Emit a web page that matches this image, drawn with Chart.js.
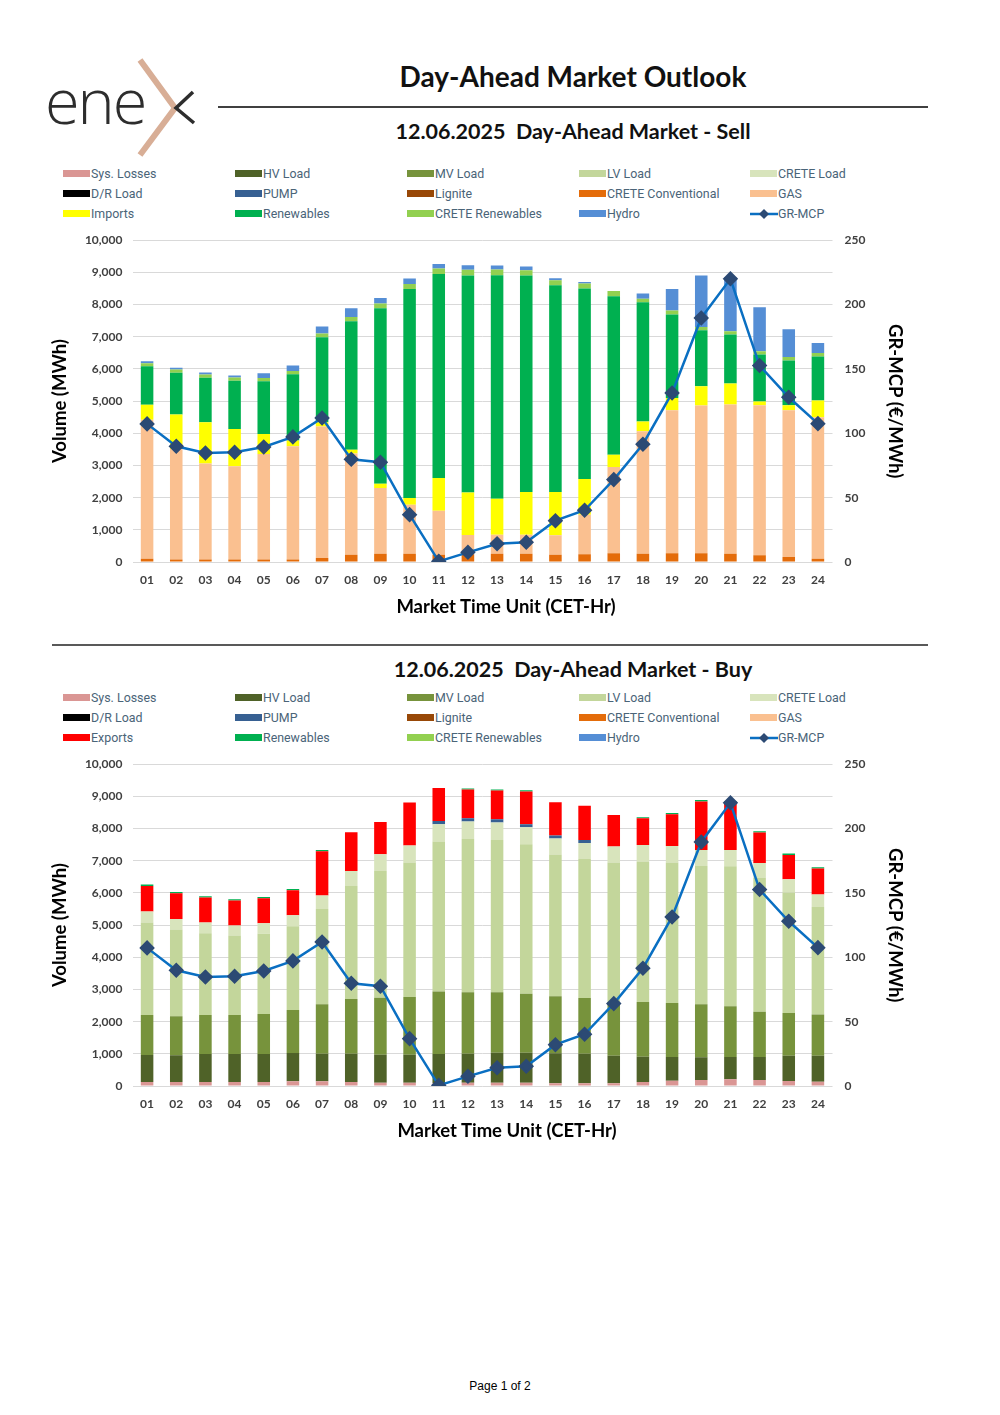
<!DOCTYPE html>
<html>
<head>
<meta charset="utf-8">
<script src="https://cdn.jsdelivr.net/npm/chart.js@4/dist/chart.umd.min.js"></script>
<style>
body { margin: 0; background: #fff; width: 1000px; height: 1415px; position: relative; font-family: Lato, sans-serif; }
.abs { position: absolute; }
.title { font-weight: bold; color: #111; text-align: center; white-space: nowrap; }
.rule { position: absolute; background: #404040; }
.leg { position: absolute; font-family: Roboto, sans-serif; font-size: 12.4px; color: #4a6478; white-space: nowrap; line-height: 13px; }
.leg .box { display: inline-block; width: 27px; height: 7px; vertical-align: middle; margin-right: 1px; position: relative; top: -1px; }
.logo { position: absolute; left: 45px; top: 65px; font-family: "Open Sans", sans-serif; font-weight: 300; font-size: 63px; color: #2d2d2d; letter-spacing: -2px; line-height: 70px; }
.xtitle { position: absolute; font-family: Lato, sans-serif; font-weight: bold; font-size: 18.5px; color: #000; text-align: center; width: 400px; white-space: nowrap; }
</style>
</head>
<body>

<div class="logo">ene</div>
<svg class="abs" style="left:0;top:0" width="220" height="170">
  <polyline points="140,60 175,108 140,155" fill="none" stroke="#d8ae96" stroke-width="6"/>
  <polyline points="193,92 176,108 194,123" fill="none" stroke="#2d2d2d" stroke-width="3.5"/>
</svg>

<div class="abs title" style="left:323px;width:500px;top:59px;font-size:28px;">Day-Ahead Market Outlook</div>
<div class="rule" style="left:218px;width:710px;top:106px;height:1.5px;"></div>
<div class="abs title" style="left:323px;width:500px;top:118px;font-size:21.5px;">12.06.2025&nbsp; Day-Ahead Market - Sell</div>

<div id="legSell"></div>
<div class="abs" style="left:40px;top:221px;"><canvas id="sellChart" width="890" height="404"></canvas></div>
<div class="xtitle" style="left:306px;top:595px;">Market Time Unit (CET-Hr)</div>

<div class="rule" style="left:52px;width:876px;top:644px;height:2px;background:#595959;"></div>
<div class="abs title" style="left:323px;width:500px;top:656px;font-size:21.5px;">12.06.2025&nbsp; Day-Ahead Market - Buy</div>

<div id="legBuy"></div>
<div class="abs" style="left:40px;top:745px;"><canvas id="buyChart" width="890" height="404"></canvas></div>
<div class="xtitle" style="left:307px;top:1119px;">Market Time Unit (CET-Hr)</div>

<div class="abs" style="left:400px;width:200px;top:1379px;text-align:center;font-family:'Liberation Sans',Arial,sans-serif;font-size:12px;color:#000;">Page 1 of 2</div>

<script>
const hours = ['01','02','03','04','05','06','07','08','09','10','11','12','13','14','15','16','17','18','19','20','21','22','23','24'];

// GR-MCP price, EUR/MWh (same in both charts)
const price = [107.3, 89.9, 84.7, 85.2, 89.4, 97.2, 111.9, 79.8, 77.5, 36.8, 0.5, 7.5, 14.2, 15.3, 32.1, 40.2, 64, 91.5, 131.3, 189.6, 220, 152.6, 128, 107.5];

// Sell side (MWh)
const sellCreteConv = [100, 80, 80, 80, 80, 80, 124, 228, 259, 259, 228, 240, 259, 259, 228, 238, 269, 259, 269, 269, 259, 207, 155, 104];
const sellGas = [4320, 3430, 2980, 2894, 3278, 3516, 4083, 3140, 2041, 1523, 1368, 600, 591, 591, 601, 1233, 2684, 3803, 4446, 4591, 4632, 4663, 4560, 4393];
const sellImports = [470, 1070, 1285, 1160, 620, 176, 135, 124, 135, 208, 1015, 1316, 1119, 1326, 1347, 1109, 383, 301, 383, 601, 653, 114, 155, 519];
const sellRenewables = [1190, 1300, 1380, 1500, 1640, 2060, 2642, 3990, 5451, 6497, 6342, 6746, 6943, 6726, 6425, 5917, 4922, 3710, 2591, 1741, 1523, 1462, 1389, 1367];
const sellCreteRen = [100, 100, 100, 100, 100, 100, 114, 135, 145, 155, 166, 176, 176, 166, 155, 155, 166, 104, 124, 104, 104, 104, 114, 114];
const sellHydro = [60, 60, 60, 60, 145, 176, 218, 269, 176, 166, 145, 145, 124, 114, 62, 52, 0, 166, 674, 1596, 1680, 1368, 860, 311];

// Buy side (MWh)
const buySysLosses = [124, 124, 124, 124, 124, 145, 145, 124, 104, 104, 83, 104, 104, 104, 83, 83, 83, 124, 166, 187, 207, 187, 155, 135];
const buyHV = [840, 829, 871, 871, 871, 881, 860, 881, 870, 870, 912, 901, 932, 932, 933, 922, 860, 788, 736, 704, 695, 715, 788, 808];
const buyMV = [1243, 1213, 1212, 1212, 1243, 1337, 1534, 1700, 1772, 1793, 1938, 1907, 1876, 1834, 1772, 1731, 1668, 1699, 1678, 1648, 1575, 1409, 1326, 1275];
const buyLV = [2871, 2694, 2539, 2467, 2497, 2601, 2964, 3513, 3938, 4176, 4663, 4767, 4736, 4643, 4404, 4321, 4332, 4363, 4363, 4300, 4352, 4155, 3741, 3347];
const buyCreteLoad = [342, 332, 332, 311, 321, 342, 414, 466, 518, 529, 539, 539, 539, 528, 497, 497, 497, 518, 518, 498, 508, 467, 415, 383];
const buyPump = [0, 0, 0, 0, 0, 0, 0, 0, 0, 0, 103, 103, 103, 94, 93, 94, 0, 0, 0, 0, 0, 0, 0, 0];
const buyExports = [798, 798, 777, 777, 777, 777, 1378, 1202, 1005, 1336, 1026, 891, 891, 1015, 1037, 1057, 985, 829, 985, 1502, 1480, 943, 756, 808];
const buyRenewables = [41, 41, 41, 41, 41, 41, 41, 0, 0, 0, 0, 32, 31, 42, 0, 0, 0, 31, 41, 52, 30, 41, 42, 42];

const colors = {
    'Sys. Losses': '#da9694',
    'HV Load': '#4f6228',
    'MV Load': '#77933c',
    'LV Load': '#c3d69b',
    'CRETE Load': '#d8e4bc',
    'D/R Load': '#000000',
    'PUMP': '#376092',
    'Lignite': '#984807',
    'CRETE Conventional': '#e46c0a',
    'GAS': '#fac090',
    'Imports': '#ffff00',
    'Exports': '#ff0000',
    'Renewables': '#00b050',
    'CRETE Renewables': '#92d050',
    'Hydro': '#558ed5',
};
const lineColor = '#0a6fc2';
const markerColor = '#2c4a74';

const sellLegend = ['Sys. Losses', 'HV Load', 'MV Load', 'LV Load', 'CRETE Load', 'D/R Load', 'PUMP', 'Lignite', 'CRETE Conventional', 'GAS', 'Imports', 'Renewables', 'CRETE Renewables', 'Hydro', 'GR-MCP'];
const buyLegend = ['Sys. Losses', 'HV Load', 'MV Load', 'LV Load', 'CRETE Load', 'D/R Load', 'PUMP', 'Lignite', 'CRETE Conventional', 'GAS', 'Exports', 'Renewables', 'CRETE Renewables', 'Hydro', 'GR-MCP'];

function drawLegend(id, names, top)
{
    const colX = [63, 235, 407, 579, 750];
    let html = '';
    names.forEach(function(name, i) {
        const x = colX[i % 5];
        const y = top + Math.floor(i / 5) * 20 - 6;
        let mark;
        if (name == 'GR-MCP')
            mark = '<svg width="28" height="12" style="vertical-align:middle;position:relative;top:-1px"><line x1="0" y1="6" x2="28" y2="6" stroke="' + lineColor + '" stroke-width="2.5"/><polygon points="14,1 19,6 14,11 9,6" fill="' + markerColor + '"/></svg>';
        else
            mark = '<span class="box" style="background:' + colors[name] + '"></span>';
        html += '<div class="leg" style="left:' + x + 'px;top:' + y + 'px">' + mark + name + '</div>';
    });
    document.getElementById(id).innerHTML = html;
}

function bar(name, data)
{
    return {
        type: 'bar',
        label: name,
        data: data,
        backgroundColor: colors[name],
        borderWidth: 0,
        yAxisID: 'y',
        order: 1,
        barPercentage: 0.43,
        categoryPercentage: 1,
    };
}

function makeChart(canvasId, bars)
{
    const tickFont = { family: 'Lato', size: 12, weight: 'bold' };
    const titleFont = { family: 'Lato', size: 18.5, weight: 'bold' };
    const datasets = bars.slice();
    datasets.push({
        type: 'line',
        label: 'GR-MCP',
        data: price,
        yAxisID: 'y1',
        order: 0,
        borderColor: lineColor,
        borderWidth: 2.5,
        pointStyle: 'rectRot',
        pointRadius: 6,
        pointBackgroundColor: markerColor,
        pointBorderColor: markerColor,
        tension: 0,
    });
    new Chart(document.getElementById(canvasId), {
        data: { labels: hours, datasets: datasets },
        options: {
            responsive: false,
            animation: false,
            layout: { padding: { top: 1 } },
            plugins: { legend: { display: false }, tooltip: { enabled: false } },
            scales: {
                x: {
                    stacked: true,
                    grid: { display: false, drawTicks: false },
                    border: { display: false },
                    ticks: { font: tickFont, color: '#404040', padding: 11 },
                    afterFit: function(scale) { scale.height = 63; },
                },
                y: {
                    stacked: true,
                    min: 0,
                    max: 10000,
                    grid: { color: '#d9d9d9', drawTicks: false },
                    border: { display: false },
                    ticks: {
                        stepSize: 1000,
                        font: tickFont,
                        color: '#404040',
                        padding: 10,
                        callback: function(v) { return v.toLocaleString('en-US'); },
                    },
                    title: { display: true, text: 'Volume (MWh)', font: titleFont, color: '#000', padding: { top: 9, bottom: 0 } },
                    afterFit: function(scale) { scale.width = 92.5; },
                },
                y1: {
                    position: 'right',
                    min: 0,
                    max: 250,
                    grid: { display: false, drawTicks: false },
                    border: { display: false },
                    ticks: { stepSize: 50, font: tickFont, color: '#404040', padding: 12 },
                    title: { display: true, text: 'GR-MCP (€/MWh)', font: titleFont, color: '#000', padding: { top: 24, bottom: 0 } },
                    afterFit: function(scale) { scale.width = 97.5; },
                },
            },
        },
    });
}

drawLegend('legSell', sellLegend, 173);
drawLegend('legBuy', buyLegend, 697);

makeChart('sellChart', [
    bar('CRETE Conventional', sellCreteConv),
    bar('GAS', sellGas),
    bar('Imports', sellImports),
    bar('Renewables', sellRenewables),
    bar('CRETE Renewables', sellCreteRen),
    bar('Hydro', sellHydro),
]);

makeChart('buyChart', [
    bar('Sys. Losses', buySysLosses),
    bar('HV Load', buyHV),
    bar('MV Load', buyMV),
    bar('LV Load', buyLV),
    bar('CRETE Load', buyCreteLoad),
    bar('PUMP', buyPump),
    bar('Exports', buyExports),
    bar('Renewables', buyRenewables),
]);
</script>
</body>
</html>
